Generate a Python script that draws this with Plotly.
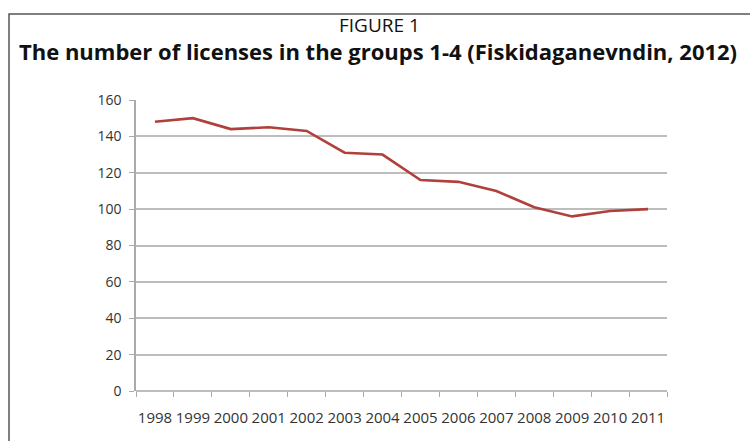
import plotly.graph_objects as go

# Number of fishing licenses, groups 1-4
years = ["1998", "1999", "2000", "2001", "2002", "2003", "2004",
         "2005", "2006", "2007", "2008", "2009", "2010", "2011"]
licenses = [148, 150, 144, 145, 143, 131, 130, 116, 115, 110, 101, 96, 99, 100]
y_ticks = [0, 20, 40, 60, 80, 100, 120, 140, 160]

W, H = 750, 441
ML, MR, MT, MB = 136, 83, 100, 50
PW, PH = W - ML - MR, H - MT - MB


def px_x(px):
    return (px - ML) / PW


def px_y(py):
    return 1 - (py - MT) / PH


fig = go.Figure()
fig.add_trace(go.Scatter(
    x=years, y=licenses, mode="lines",
    line=dict(color="#B0403C", width=2.6),
    hoverinfo="x+y", showlegend=False,
))

fig.update_layout(
    width=W, height=H,
    margin=dict(l=ML, r=MR, t=MT, b=MB),
    paper_bgcolor="white", plot_bgcolor="white",
    font=dict(family="Open Sans, DejaVu Sans, sans-serif", color="#444"),
    xaxis=dict(
        type="category", tickmode="array", tickvals=years, ticktext=years,
        tickson="boundaries", ticks="outside", ticklen=5, tickcolor="#AAAAAA",
        showline=False, showgrid=False, zeroline=False, tickangle=0,
        ticklabelstandoff=16,
        tickfont=dict(size=15, color="#333333", family="Open Sans, sans-serif"),
        range=[-0.5, len(years) - 0.5],
    ),
    yaxis=dict(
        range=[0, 160], tickvals=y_ticks, ticks="outside", ticklen=5,
        tickcolor="#AAAAAA", showline=True, linecolor="#AAAAAA", linewidth=1.5,
        showgrid=True, gridcolor="#BDBDBD", gridwidth=1.5,
        zeroline=True, zerolinecolor="#BDBDBD", zerolinewidth=1.5,
        ticklabelstandoff=5,
        tickfont=dict(size=14, color="#333333"),
    ),
    shapes=[
        dict(type="rect", xref="paper", yref="paper",
             x0=px_x(9), x1=px_x(W + 5), y0=px_y(H + 5), y1=px_y(14),
             line=dict(color="#555555", width=1.5), fillcolor="rgba(0,0,0,0)",
             layer="below"),
    ],
    annotations=[
        dict(text="FIGURE 1", xref="paper", yref="paper",
             x=px_x(379), y=px_y(25), xanchor="center", yanchor="middle",
             showarrow=False,
             font=dict(size=19, color="#111", family="Open Sans, sans-serif")),
        dict(text="<b>The number of licenses in the groups 1-4 (Fiskidaganevndin, 2012)</b>",
             xref="paper", yref="paper",
             x=px_x(378), y=px_y(51), xanchor="center", yanchor="middle",
             showarrow=False,
             font=dict(size=22, color="#111", family="Open Sans, sans-serif")),
    ],
)

fig.write_html("out.html")
